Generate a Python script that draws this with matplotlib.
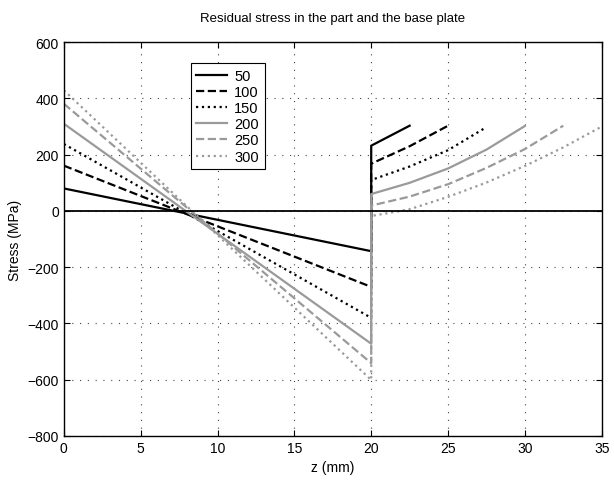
import matplotlib
matplotlib.use("Agg")
import matplotlib.pyplot as plt

plt.rcParams['font.family'] = ['Liberation Sans', 'DejaVu Sans']

# part heights (legend entries)
heights = ['50', '100', '150', '200', '250', '300']

# base plate: stress at z=0 and z=20 (linear)
base_top = [80, 161, 238, 310, 381, 429]
base_bot = [-143, -270, -380, -472, -541, -601]

# part: z positions and stress above the base plate
part_z = [
    [20, 22.5],
    [20, 22.5, 25],
    [20, 22.5, 25, 27.5],
    [20, 22.5, 25, 27.5, 30],
    [20, 22.5, 25, 27.5, 30, 32.5],
    [20, 22.5, 25, 27.5, 30, 32.5, 35],
]
part_s = [
    [232, 303],
    [168, 230, 303],
    [110, 158, 216, 298],
    [60, 100, 151, 218, 302],
    [19, 51, 95, 153, 220, 303],
    [-18, 6, 50, 101, 160, 226, 300],
]

colors = ['black', 'black', 'black', '#9a9a9a', '#9a9a9a', '#9a9a9a']
styles = ['-', '--', ':', '-', '--', ':']

fig = plt.figure(figsize=(6.14, 4.85), dpi=100)
ax = fig.add_axes([0.104, 0.099, 0.876, 0.812])

for i in range(len(heights)):
    z = [0, 20] + part_z[i]
    s = [base_top[i], base_bot[i]] + part_s[i]
    ax.plot(z, s, color=colors[i], linestyle=styles[i], linewidth=1.6,
            label=heights[i])

ax.plot([0, 35], [0, 0], color='black', linewidth=1.3)

ax.set_xlim(0, 35)
ax.set_ylim(-800, 600)
ax.set_xticks(range(0, 36, 5))
ax.set_yticks(range(-800, 601, 200))
ax.grid(True, color='#444444', linestyle=(0, (1, 6)), linewidth=0.8)
ax.tick_params(direction='in', top=True, right=True, labelsize=10, length=4)
for sp in ax.spines.values():
    sp.set_linewidth(1.0)

ax.set_xlabel('z (mm)', fontsize=10)
ax.set_ylabel('Stress (MPa)', fontsize=10)
ax.set_title('Residual stress in the part and the base plate', fontsize=9.5, pad=15)

leg = ax.legend(loc='upper left', bbox_to_anchor=(0.222, 0.966), fontsize=10.5,
                fancybox=False, edgecolor='black', framealpha=1,
                handlelength=2.1, handletextpad=0.5, labelspacing=0.15,
                borderpad=0.4)
leg.get_frame().set_linewidth(0.8)

fig.savefig('out.png', dpi=100)
